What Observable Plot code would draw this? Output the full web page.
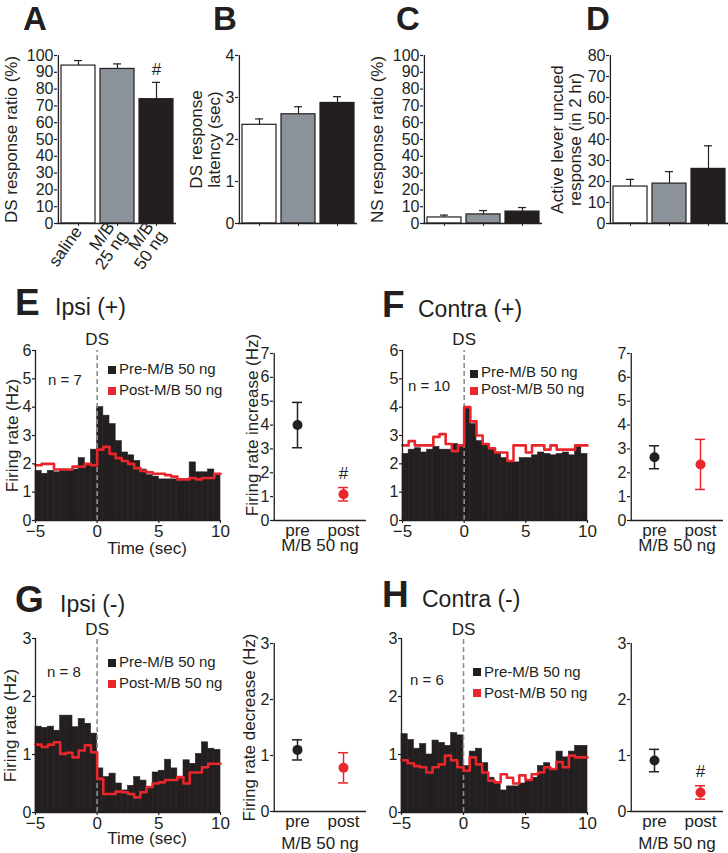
<!DOCTYPE html>
<html><head><meta charset="utf-8">
<script src="https://cdn.jsdelivr.net/npm/d3@7"></script>
<script src="https://cdn.jsdelivr.net/npm/@observablehq/plot@0.6"></script>
<style>
body{margin:0;background:#fff;}
#fig{position:relative;width:728px;height:853px;overflow:hidden;font-family:"Liberation Sans",Arial,Helvetica,sans-serif;color:#231f20;background:#fff;}
#fig svg{position:absolute;overflow:visible;}
.lbl{position:absolute;white-space:pre;line-height:1;}
.sw{position:absolute;}
</style></head><body><div id="fig"></div>
<script>
// ---------- data ----------
const groups = ["saline", "M/B 25 ng", "M/B 50 ng"];
const groupTickNames = ["saline", "M/B\n25 ng", "M/B\n50 ng"];
const groupFill = ["#ffffff", "#8b9299", "#231f20"];
const dsRatio = [94, 92, 74];
const dsRatioErr = [3, 3, 10];
const dsRatioHash = [false, false, true];
const dsLatency = [2.35, 2.6, 2.87];
const dsLatencyErr = [0.14, 0.18, 0.15];
const nsRatio = [3.6, 5.4, 7.1];
const nsRatioErr = [1.4, 2.3, 2.4];
const uncued = [17.6, 19, 26];
const uncuedErr = [3.4, 5.7, 11];
const ratioTicks = [0,10,20,30,40,50,60,70,80,90,100];
const latencyTicks = [0,1,2,3,4];
const uncuedTicks = [0,10,20,30,40,50,60,70,80];

const binStart = [-5,-4.5,-4,-3.5,-3,-2.5,-2,-1.5,-1,-0.5,0,0.5,1,1.5,2,2.5,3,3.5,4,4.5,5,5.5,6,6.5,7,7.5,8,8.5,9,9.5];
const binWidth = 0.5;
const timeTicks = [-5, 0, 5, 10];

const ipsiPlusPre  = [1.75,1.65,1.75,1.7,1.8,1.75,1.8,2.2,2.0,2.5, 4.0,3.7,3.4,2.8,2.4,2.3,2.1,1.8,1.6,1.55, 1.45,1.45,1.45,1.4,1.45,2.05,1.7,1.7,1.8,1.6];
const ipsiPlusPost = [1.95,2.0,2.0,1.8,1.8,1.8,1.9,1.9,2.0,1.95, 2.5,2.6,2.35,2.2,2.1,2.0,1.85,1.75,1.7,1.65, 1.65,1.6,1.55,1.45,1.45,1.5,1.45,1.5,1.5,1.65];
const contraPlusPre  = [2.35,2.5,2.55,2.4,2.5,2.6,2.5,2.5,2.7,2.6, 4.0,3.4,2.8,2.7,2.5,2.4,2.2,2.1,2.05,2.2, 2.2,2.3,2.4,2.35,2.3,2.35,2.4,2.3,2.6,2.35];
const contraPlusPost = [2.65,2.8,2.65,2.65,2.65,2.95,3.05,2.7,2.45,2.65, 4.0,3.5,3.0,2.7,2.55,2.4,2.4,2.1,2.65,2.65, 2.4,2.65,2.65,2.5,2.65,2.5,2.5,2.5,2.65,2.65];
const ipsiMinusPre  = [1.48,1.46,1.48,1.41,1.67,1.67,1.47,1.61,1.53,1.36, 0.76,0.61,0.67,0.5,0.38,0.46,0.61,0.55,0.44,0.69, 0.72,0.91,0.76,0.61,0.9,0.84,1.01,1.21,1.1,1.08];
const ipsiMinusPost = [1.17,1.13,1.17,1.21,1.01,1.03,0.95,1.07,1.16,1.04, 0.58,0.32,0.32,0.36,0.35,0.32,0.26,0.35,0.44,0.5, 0.52,0.56,0.56,0.61,0.5,0.69,0.69,0.78,0.84,0.84];
const contraMinusPre  = [1.35,1.25,1.1,1.18,1.0,1.24,1.2,1.15,1.37,1.33, 0.8,1.05,1.1,0.85,0.6,0.5,0.38,0.45,0.45,0.5, 0.55,0.6,0.8,0.85,0.75,1.05,0.95,1.05,1.15,1.15];
const contraMinusPost = [0.9,0.85,0.8,0.78,0.69,0.78,0.83,0.98,0.9,0.78, 0.72,0.95,0.83,0.69,0.55,0.52,0.66,0.6,0.5,0.64, 0.56,0.66,0.69,0.78,0.75,0.87,0.78,0.98,0.95,0.95];

const conditions = ["pre", "post"];
const condColor = ["#231f20", "#e8262b"];
const ipsiPlusChange = [4.0, 1.1], ipsiPlusChangeErr = [0.95, 0.28], ipsiPlusHash = [false, true];
const contraPlusChange = [2.65, 2.35], contraPlusChangeErr = [0.48, 1.05], contraPlusHash = [false, false];
const ipsiMinusChange = [1.1, 0.78], ipsiMinusChangeErr = [0.18, 0.27], ipsiMinusHash = [false, false];
const contraMinusChange = [0.91, 0.34], contraMinusChangeErr = [0.2, 0.12], contraMinusHash = [false, true];
const changeTicksPlus = [0,1,2,3,4,5,6,7];
const rateTicksPlus = [0,1,2,3,4,5,6];
const ticksMinus = [0,1,2,3];

const legendLabels = ["Pre-M/B 50 ng", "Post-M/B 50 ng"];
const legendColors = ["#231f20", "#e8262b"];
const topLetters = ["A", "B", "C", "D"];
const rowLetters = ["E", "F", "G", "H"];
const rowTitles = ["Ipsi (+)", "Contra (+)", "Ipsi (-)", "Contra (-)"];
const nCounts = ["n = 7", "n = 10", "n = 8", "n = 6"];

// ---------- helpers ----------
const fig = document.getElementById("fig");
const INK = "#231f20", RED = "#e8262b", DASH = "#8d8f92";
const FONT = "'Liberation Sans', Arial, Helvetica, sans-serif";
const intFmt = d3.format("d");

function mount(opts, fx1, fx2, fy1, fy2, m) {
  const [ml, mr, mt, mb] = m;
  const svg = Plot.plot({
    width: fx2 - fx1 + ml + mr,
    height: fy2 - fy1 + mt + mb,
    marginLeft: ml, marginRight: mr, marginTop: mt, marginBottom: mb,
    style: {fontFamily: FONT, fontSize: "16px", color: INK, background: "transparent", overflow: "visible"},
    color: {type: "identity"},
    ...opts
  });
  svg.style.position = "absolute";
  svg.style.left = (fx1 - ml) + "px";
  svg.style.top = (fy1 - mt) + "px";
  fig.appendChild(svg);
}

function txt(s, x, base, size, o = {}) {
  const d = document.createElement("div");
  d.className = "lbl";
  d.textContent = s;
  d.style.fontSize = size + "px";
  d.style.top = (base - 0.8465 * size) + "px";
  d.style.left = x + "px";
  d.style.fontWeight = o.bold ? "bold" : "normal";
  d.style.color = o.color || INK;
  fig.appendChild(d);
}
function swatch(x, y, w, h, color) {
  const d = document.createElement("div");
  d.className = "sw";
  Object.assign(d.style, {left: x + "px", top: y + "px", width: w + "px", height: h + "px", background: color});
  fig.appendChild(d);
}
function yTitle(label, dx, dy = 0) {
  return Plot.text([label], {frameAnchor: "left", rotate: -90, dx, dy, textAnchor: "middle", lineAnchor: "middle", fontSize: 17, lineHeight: 1.05, fill: INK});
}
// distance (px) from the first band's centre to the frame's left edge
function bandEdge(width, n, pIn, pOut) {
  const step = width / (n - pIn + 2 * pOut);
  return step * (pOut + (1 - pIn) / 2);
}

const BAR_PIN = 0.14, BAR_POUT = 0.08;
function barPanel(fx1, fx2, vals, errs, yMax, ticks, label, labelDx, hashFlags, tickNames) {
  const rows = groups.map((g, i) => ({g, v: vals[i], e: errs[i], fill: groupFill[i], hash: hashFlags ? hashFlags[i] : false}));
  const edge = bandEdge(fx2 - fx1, groups.length, BAR_PIN, BAR_POUT);
  mount({
    x: {type: "band", domain: groups, paddingInner: BAR_PIN, paddingOuter: BAR_POUT},
    y: {domain: [0, yMax]},
    marks: [
      Plot.ruleX(rows, {x: "g", y1: "v", y2: d => d.v + d.e, stroke: INK, strokeWidth: 1.2}),
      Plot.tickY(rows, {x: "g", y: d => d.v + d.e, stroke: INK, strokeWidth: 1.2, insetLeft: 13, insetRight: 13}),
      Plot.barY(rows, {x: "g", y: "v", fill: "fill", stroke: INK, strokeWidth: 1.2}),
      Plot.ruleY([0], {stroke: INK, strokeWidth: 1.3}),
      Plot.ruleX([groups[0]], {y1: 0, y2: yMax, dx: -edge, stroke: INK, strokeWidth: 1.3}),
      Plot.axisY({ticks, tickFormat: intFmt, tickSize: 3, tickPadding: 1, label: null, fontSize: 16, strokeWidth: 1.2}),
      tickNames
        ? Plot.axisX({tickSize: 3, tickRotate: -55, tickPadding: 2, tickFormat: d => tickNames[groups.indexOf(d)], fontSize: 17, lineHeight: 0.92, label: null})
        : Plot.axisX({tickSize: 3, tickFormat: () => "", label: null}),
      yTitle(label, labelDx),
      Plot.text(rows.filter(d => d.hash), {x: "g", y: d => d.v + d.e, dy: -13, text: () => "#", fontSize: 17, fill: INK})
    ]
  }, fx1, fx2, 55, 223, [62, 4, 12, 62]);
}

function histPanel(fx1, fx2, fy1, fy2, yMax, yTicks, pre, post, yLabel, yLabelDx, xLabel, xLabelDy, dsDy) {
  const preRows = binStart.map((t, i) => ({t, v: pre[i]}));
  const postRows = binStart.map((t, i) => ({t, v: post[i]}));
  postRows.push({t: binStart[binStart.length - 1] + binWidth, v: post[post.length - 1]});
  const x0 = timeTicks[0];
  mount({
    x: {domain: [timeTicks[0], timeTicks[timeTicks.length - 1]]},
    y: {domain: [0, yMax]},
    marks: [
      Plot.rect(preRows, {x1: "t", x2: d => d.t + binWidth, y1: 0, y2: "v", fill: INK, stroke: INK, strokeWidth: 0.6}),
      Plot.ruleX([0], {y1: 0, y2: yMax, stroke: DASH, strokeWidth: 1.6, strokeDasharray: "5,3"}),
      Plot.line(postRows, {x: "t", y: "v", curve: "step-after", stroke: RED, strokeWidth: 2.6}),
      Plot.ruleX([x0], {y1: 0, y2: yMax, stroke: INK, strokeWidth: 1.3}),
      Plot.ruleY([0], {stroke: INK, strokeWidth: 1.3}),
      Plot.axisY({ticks: yTicks, tickFormat: intFmt, tickSize: 3, tickPadding: 1, label: null, fontSize: 16, strokeWidth: 1.2}),
      Plot.axisX({ticks: timeTicks, tickFormat: intFmt, tickSize: 3, tickPadding: 1.5, label: null, fontSize: 17, strokeWidth: 1.2}),
      Plot.text(["DS"], {x: 0, frameAnchor: "top", lineAnchor: "middle", dy: dsDy, fontSize: 17, fill: INK}),
      yLabel ? yTitle(yLabel, yLabelDx) : null,
      xLabel ? Plot.text([xLabel], {frameAnchor: "bottom", lineAnchor: "middle", textAnchor: "middle", dx: 19, dy: xLabelDy, fontSize: 17, fill: INK}) : null
    ]
  }, fx1, fx2, fy1, fy2, [40, 10, 20, 40]);
}

function dotPanel(fx1, fx2, fy1, fy2, yMax, yTicks, vals, errs, hashFlags, yLabel, yLabelDx, yLabelDy, doseDy) {
  const rows = conditions.map((c, i) => ({c, v: vals[i], e: errs[i], color: condColor[i], hash: hashFlags[i]}));
  const edge = bandEdge(fx2 - fx1, conditions.length, 0, 0);
  mount({
    x: {type: "band", domain: conditions, padding: 0},
    y: {domain: [0, yMax]},
    marks: [
      Plot.ruleX(rows, {x: "c", y1: d => d.v - d.e, y2: d => d.v + d.e, stroke: "color", strokeWidth: 1.5}),
      Plot.tickY(rows, {x: "c", y: d => d.v + d.e, stroke: "color", strokeWidth: 1.5, insetLeft: 18, insetRight: 18}),
      Plot.tickY(rows, {x: "c", y: d => d.v - d.e, stroke: "color", strokeWidth: 1.5, insetLeft: 18, insetRight: 18}),
      Plot.dot(rows, {x: "c", y: "v", r: 5, fill: "color", stroke: null}),
      Plot.ruleY([0], {stroke: INK, strokeWidth: 1.3}),
      Plot.ruleX([conditions[0]], {y1: 0, y2: yMax, dx: -edge, stroke: INK, strokeWidth: 1.3}),
      Plot.axisY({ticks: yTicks, tickFormat: intFmt, tickSize: 3, tickPadding: 1, label: null, fontSize: 16, strokeWidth: 1.2}),
      Plot.axisX({tickSize: 0, tickPadding: 3, fontSize: 17, label: null}),
      Plot.text(["M/B 50 ng"], {frameAnchor: "bottom", lineAnchor: "middle", textAnchor: "middle", dy: doseDy, fontSize: 17, fill: INK}),
      yLabel ? yTitle(yLabel, yLabelDx, yLabelDy) : null,
      Plot.text(rows.filter(d => d.hash), {x: "c", y: d => d.v + d.e, dy: -14, text: () => "#", fontSize: 17, fill: INK})
    ]
  }, fx1, fx2, fy1, fy2, [40, 6, 12, 40]);
}

// ---------- top row ----------
barPanel(57, 176, dsRatio, dsRatioErr, 100, ratioTicks, "DS response ratio (%)", -46, dsRatioHash, groupTickNames);
barPanel(238, 357, dsLatency, dsLatencyErr, 4, latencyTicks, "DS response\nlatency (sec)", -33, null, null);
barPanel(423, 542, nsRatio, nsRatioErr, 100, ratioTicks, "NS response ratio (%)", -46, null, null);
barPanel(609, 728, uncued, uncuedErr, 80, uncuedTicks, "Active lever uncued\nresponse (in 2 hr)", -43, null, null);

const topLetterX = [23, 213, 396, 586];
topLetters.forEach((L, i) => txt(L, topLetterX[i], 30, 33, {bold: true}));

// ---------- histograms ----------
histPanel(35, 220, 350, 520, 6, rateTicksPlus, ipsiPlusPre, ipsiPlusPost, "Firing rate (Hz)", -23, "Time (sec)", 28, -11);
histPanel(402, 587, 350, 520, 6, rateTicksPlus, contraPlusPre, contraPlusPost, null, 0, null, 0, -11);
histPanel(35, 220, 638, 812, 3, ticksMinus, ipsiMinusPre, ipsiMinusPost, "Firing rate (Hz)", -25, "Time (sec)", 26, -9);
histPanel(401, 587, 638, 812, 3, ticksMinus, contraMinusPre, contraMinusPost, null, 0, null, 0, -9);

// ---------- change panels ----------
dotPanel(273, 366, 353, 520, 7, changeTicksPlus, ipsiPlusChange, ipsiPlusChangeErr, ipsiPlusHash, "Firing rate increase (Hz)", -21, -12, 25);
dotPanel(630, 723, 353, 520, 7, changeTicksPlus, contraPlusChange, contraPlusChangeErr, contraPlusHash, null, 0, 0, 25);
dotPanel(273, 366, 643, 811, 3, ticksMinus, ipsiMinusChange, ipsiMinusChangeErr, ipsiMinusHash, "Firing rate decrease (Hz)", -24, 0, 32);
dotPanel(630, 723, 643, 811, 3, ticksMinus, contraMinusChange, contraMinusChangeErr, contraMinusHash, null, 0, 0, 32);

// ---------- row titles, legends ----------
const rowLetterPos = [[15, 315], [382, 317], [15, 612], [382, 607]];
const rowTitlePos = [[55, 315], [418, 317], [60, 612], [422, 607]];
rowLetters.forEach((L, i) => {
  txt(L, rowLetterPos[i][0], rowLetterPos[i][1], 37, {bold: true});
  txt(rowTitles[i], rowTitlePos[i][0], rowTitlePos[i][1], 23);
});
const legendPos = [[108, 366, 374, 395, 48, 385], [470, 370, 377, 394, 408, 391], [108, 659, 667, 688, 47, 677], [473, 668, 677, 698, 410, 685]];
legendPos.forEach(([x, sy, b1, b2, nx, nb], i) => {
  swatch(x, sy, 8, 8, legendColors[0]);
  swatch(x, sy + (b2 - b1), 8, 8, legendColors[1]);
  txt(legendLabels[0], x + 11, b1, 15);
  txt(legendLabels[1], x + 11, b2, 15);
  txt(nCounts[i], nx, nb, 15);
});
</script></body></html>
